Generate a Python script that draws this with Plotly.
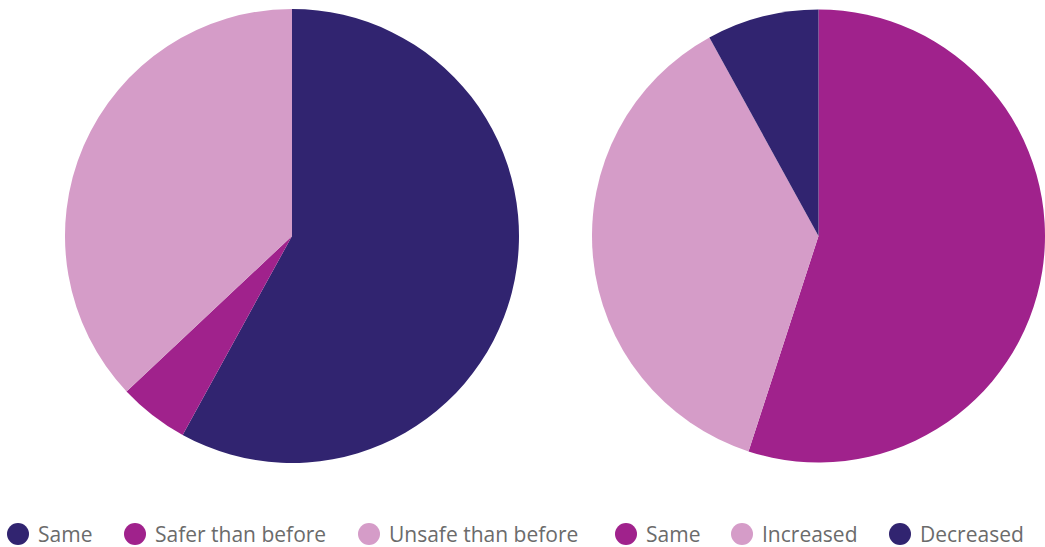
import plotly.graph_objects as go

# Left pie: perceived safety
safety_labels = ["Same", "Safer than before", "Unsafe than before"]
safety_values = [58, 5, 37]

# Right pie: change
change_labels = ["Same", "Increased", "Decreased"]
change_values = [55, 37, 8]

NAVY = "#312470"
MAGENTA = "#A0228C"
PINK = "#D59CC8"
safety_colors = [NAVY, MAGENTA, PINK]
change_colors = [MAGENTA, PINK, NAVY]

W, H = 1045, 547

fig = go.Figure()

fig.add_trace(go.Pie(
    labels=safety_labels, values=safety_values,
    marker=dict(colors=safety_colors, line=dict(width=0)),
    sort=False, direction="clockwise", rotation=0,
    textinfo="none", showlegend=False,
    domain=dict(x=[65 / W, 519 / W], y=[1 - 463 / H, 1 - 9 / H]),
))
fig.add_trace(go.Pie(
    labels=change_labels, values=change_values,
    marker=dict(colors=change_colors, line=dict(width=0)),
    sort=False, direction="clockwise", rotation=0,
    textinfo="none", showlegend=False,
    domain=dict(x=[592 / W, 1.0], y=[1 - 463 / H, 1 - 9 / H]),
))

# Custom legend row with large round swatches
legend_labels = safety_labels + change_labels
legend_colors = safety_colors + change_colors
legend_cx = [18, 135, 369, 626, 742, 900]
legend_cy = 534
r = 11
shapes = []
annotations = []
for lab, col, cx in zip(legend_labels, legend_colors, legend_cx):
    shapes.append(dict(
        type="circle", xref="paper", yref="paper",
        x0=(cx - r) / W, x1=(cx + r) / W,
        y0=1 - (legend_cy + r) / H, y1=1 - (legend_cy - r) / H,
        fillcolor=col, line=dict(width=0),
    ))
    annotations.append(dict(
        text=lab, xref="paper", yref="paper",
        x=(cx + r + 7) / W, y=1 - legend_cy / H,
        xanchor="left", yanchor="middle", showarrow=False,
        font=dict(family="Open Sans", size=21, color="#6b6b6b"),
    ))

fig.update_layout(
    width=W, height=H,
    margin=dict(l=0, r=0, t=0, b=0),
    paper_bgcolor="white", plot_bgcolor="white",
    shapes=shapes, annotations=annotations,
)

fig.write_html("out.html")
